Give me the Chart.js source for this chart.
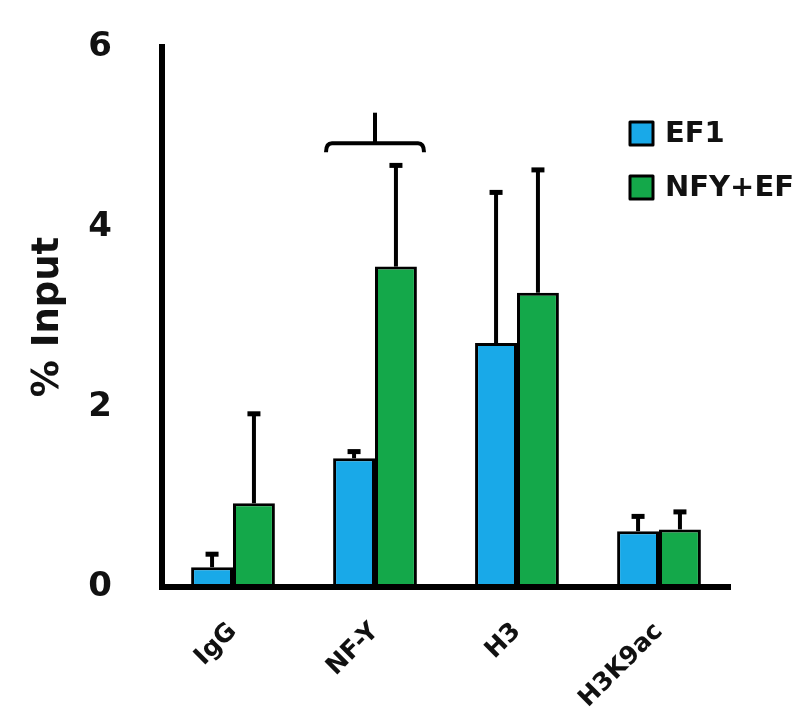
<!DOCTYPE html>
<html>
<head>
<meta charset="utf-8">
<script src="https://cdn.jsdelivr.net/npm/chart.js@4.4.1/dist/chart.umd.min.js"></script>
<style>
  html, body { margin: 0; padding: 0; background: #fff; }
  canvas { display: block; }
</style>
</head>
<body>
<canvas id="chipChart" width="806" height="720"></canvas>
<script>
const categories = ["IgG", "NF-Y", "H3", "H3K9ac"];
const seriesNames = ["EF1", "NFY+EF"];
const ef1Values = [0.22, 1.43, 2.71, 0.62];
const ef1Errors = [0.15, 0.08, 1.68, 0.17];
const nfyValues = [0.93, 3.56, 3.27, 0.64];
const nfyErrors = [1.00, 1.13, 1.37, 0.20];
const yTicks = [0, 2, 4, 6];

const FONT = "'DejaVu Sans', sans-serif";
const BLUE = "#19a9e8";
const GREEN = "#14a84a";

// upper error bars only, T-shaped caps
const errorBars = {
    id: "errorBars",
    afterDatasetsDraw(chart) {
        const ctx = chart.ctx;
        const y = chart.scales.y;
        ctx.save();
        ctx.strokeStyle = "#000";
        ctx.fillStyle = "#000";
        ctx.lineWidth = 4;
        chart.data.datasets.forEach((ds, i) => {
            const meta = chart.getDatasetMeta(i);
            meta.data.forEach((bar, j) => {
                const top = y.getPixelForValue(ds.data[j] + ds.errors[j]);
                ctx.beginPath();
                ctx.moveTo(bar.x, bar.y);
                ctx.lineTo(bar.x, top);
                ctx.stroke();
                ctx.fillRect(bar.x - 6.5, top - 2, 13, 5);
            });
        });
        ctx.restore();
    }
};

// significance bracket over NF-Y + legend
const extras = {
    id: "extras",
    afterDraw(chart) {
        const ctx = chart.ctx;
        const x = chart.scales.x;
        const y = chart.scales.y;
        const cx = x.getPixelForValue(1);
        const yb = y.getPixelForValue(4.93);
        const ye = y.getPixelForValue(4.83);
        const yt = y.getPixelForValue(5.27);
        ctx.save();
        ctx.strokeStyle = "#000";
        ctx.lineWidth = 4;
        ctx.lineJoin = "round";
        ctx.beginPath();
        ctx.moveTo(cx - 49, ye);
        ctx.quadraticCurveTo(cx - 49, yb, cx - 43, yb);
        ctx.lineTo(cx + 43, yb);
        ctx.quadraticCurveTo(cx + 49, yb, cx + 49, ye);
        ctx.stroke();
        ctx.beginPath();
        ctx.moveTo(cx, yb);
        ctx.lineTo(cx, yt);
        ctx.stroke();

        // legend
        const colors = [BLUE, GREEN];
        ctx.font = "bold 29px " + FONT;
        ctx.textBaseline = "middle";
        seriesNames.forEach((name, i) => {
            const ly = 133 + i * 54;
            ctx.fillStyle = colors[i];
            ctx.fillRect(630, ly - 11, 23, 23);
            ctx.lineWidth = 3;
            ctx.strokeRect(630, ly - 11, 23, 23);
            ctx.fillStyle = "#111";
            ctx.fillText(name, 665, ly + 1);
        });
        ctx.restore();
    }
};

new Chart(document.getElementById("chipChart"), {
    type: "bar",
    data: {
        labels: categories,
        datasets: [
            { label: seriesNames[0], data: ef1Values, errors: ef1Errors, backgroundColor: BLUE },
            { label: seriesNames[1], data: nfyValues, errors: nfyErrors, backgroundColor: GREEN }
        ]
    },
    options: {
        responsive: false,
        animation: false,
        layout: { padding: { top: 47, right: 76, left: 0, bottom: 0 } },
        datasets: {
            bar: {
                borderColor: "#000",
                borderWidth: 3,
                borderSkipped: false,
                categoryPercentage: 0.59,
                barPercentage: 1
            }
        },
        plugins: {
            legend: { display: false },
            tooltip: { enabled: false }
        },
        scales: {
            x: {
                grid: { display: false },
                border: { display: true, color: "#000", width: 6 },
                ticks: {
                    autoSkip: false,
                    minRotation: 45,
                    maxRotation: 45,
                    padding: 22,
                    color: "#111",
                    font: { family: FONT, size: 25, weight: "bold" }
                },
                afterFit(scale) {
                    scale.height = 133;
                    scale.paddingLeft = 0;
                    scale.paddingRight = 0;
                }
            },
            y: {
                min: 0,
                max: 6,
                grid: { display: false },
                border: { display: true, color: "#000", width: 6 },
                afterBuildTicks(scale) { scale.ticks = yTicks.map(v => ({ value: v })); },
                ticks: {
                    padding: 42,
                    color: "#111",
                    font: { family: FONT, size: 34, weight: "bold" }
                },
                title: {
                    display: true,
                    text: "% Input",
                    color: "#111",
                    padding: { top: 26, bottom: 0 },
                    font: { family: FONT, size: 37, weight: "bold" }
                },
                afterFit(scale) {
                    scale.width = 162;
                    scale.paddingTop = 0;
                    scale.paddingBottom = 0;
                }
            }
        }
    },
    plugins: [errorBars, extras]
});
</script>
</body>
</html>
